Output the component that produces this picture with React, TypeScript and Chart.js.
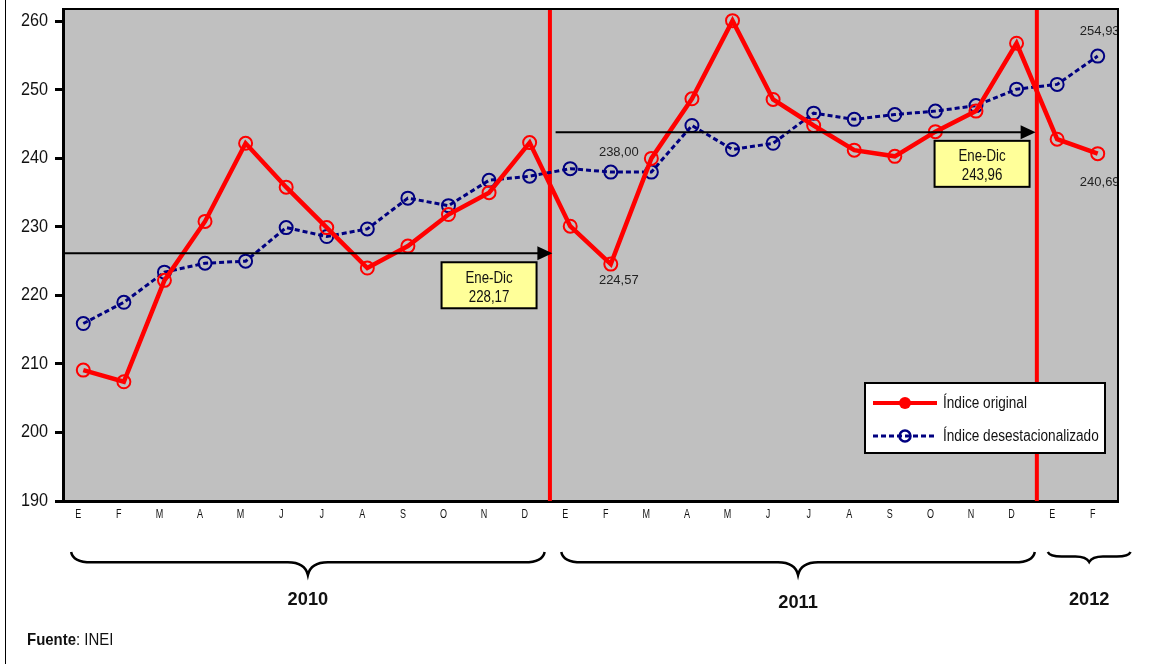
import React, { useEffect, useRef } from "react";
import { Chart, registerables } from "chart.js";

Chart.register(...registerables);

const months = ["E","F","M","A","M","J","J","A","S","O","N","D","E","F","M","A","M","J","J","A","S","O","N","D","E","F"];
const original = [209.1,207.4,222.2,230.8,242.2,235.8,229.9,224.0,227.2,231.8,235.0,242.3,230.1,224.57,240.0,248.7,260.1,248.6,244.8,241.2,240.3,243.9,246.9,256.8,242.8,240.69];
const desest = [215.9,219.0,223.4,224.7,225.0,229.9,228.6,229.7,234.2,233.1,236.8,237.4,238.5,238.0,238.0,244.8,241.3,242.2,246.6,245.7,246.4,246.9,247.7,250.1,250.8,254.93];
const yTicks = [190,200,210,220,230,240,250,260];
const yMin = 190;
const yMax = 261.8;

const yearLabels = ["2010","2011","2012"];
const yearStart = [-0.3, 11.78, 23.77];
const yearEnd = [11.37, 23.45, 25.81];
const yearDividers = [11.5, 23.5];

const arrowStart = [-0.5, 11.64];
const arrowEnd = [11.56, 23.47];
const arrowValue = [226.15, 243.8];
const boxCenter = [10, 22.15];
const boxTopValue = [224.84, 242.56];
const boxTitle = ["Ene-Dic", "Ene-Dic"];
const boxValue = ["228,17", "243,96"];

const labeledIdx = [13, 25];
const seriesNames = ["Índice original", "Índice desestacionalizado"];

const SANS = "'Liberation Sans', Arial, sans-serif";
const fmt = (v: number) => v.toFixed(2).replace(".", ",");

function narrowText(
  ctx: CanvasRenderingContext2D, text: string, x: number, y: number,
  size: number, sx: number, align: CanvasTextAlign = "center", bold = false, color = "#111"
) {
  ctx.save();
  ctx.translate(x, y);
  ctx.scale(sx, 1);
  ctx.font = `${bold ? "bold " : ""}${size}px ${SANS}`;
  ctx.fillStyle = color;
  ctx.textAlign = align;
  ctx.textBaseline = "middle";
  ctx.fillText(text, 0, 0);
  ctx.restore();
}

function brace(ctx: CanvasRenderingContext2D, x1: number, x2: number, yTop: number, depth: number) {
  const mid = (x1 + x2) / 2;
  const yLine = yTop + depth * 0.45;
  const yTip = yTop + depth;
  const r = Math.min(20, (x2 - x1) / 6);
  ctx.beginPath();
  ctx.moveTo(x1, yTop);
  ctx.quadraticCurveTo(x1 + 2, yLine, x1 + r, yLine);
  ctx.lineTo(mid - r, yLine);
  ctx.quadraticCurveTo(mid - 3, yLine, mid, yTip);
  ctx.quadraticCurveTo(mid + 3, yLine, mid + r, yLine);
  ctx.lineTo(x2 - r, yLine);
  ctx.quadraticCurveTo(x2 - 2, yLine, x2, yTop);
  ctx.stroke();
}

const decor = {
  id: "decor",
  beforeDraw(chart: any) {
    const { ctx, chartArea: { left, top, right, bottom } } = chart;
    ctx.save();
    ctx.fillStyle = "#fff";
    ctx.fillRect(0, 0, chart.width, chart.height);
    ctx.fillStyle = "#C0C0C0";
    ctx.fillRect(left, top, right - left, bottom - top);
    ctx.restore();
  },
  beforeDatasetsDraw(chart: any) {
    const { ctx, chartArea: { top, bottom } } = chart;
    const xs = chart.scales.x;
    ctx.save();
    ctx.strokeStyle = "#FF0000";
    ctx.lineWidth = 4;
    yearDividers.forEach((d) => {
      const x = (xs.getPixelForValue(Math.floor(d)) + xs.getPixelForValue(Math.ceil(d))) / 2;
      ctx.beginPath();
      ctx.moveTo(x, top);
      ctx.lineTo(x, bottom);
      ctx.stroke();
    });
    ctx.restore();
  },
  afterDatasetsDraw(chart: any) {
    const { ctx, chartArea: { left } } = chart;
    const xs = chart.scales.x;
    const ys = chart.scales.y;
    const step = xs.getPixelForValue(1) - xs.getPixelForValue(0);
    const px = (i: number) => xs.getPixelForValue(0) + i * step;
    ctx.save();
    ctx.strokeStyle = "#000";
    ctx.fillStyle = "#000";
    ctx.lineWidth = 2;
    arrowValue.forEach((v, i) => {
      const y = ys.getPixelForValue(v);
      const x1 = Math.max(left, px(arrowStart[i]));
      const x2 = px(arrowEnd[i]);
      ctx.beginPath();
      ctx.moveTo(x1, y);
      ctx.lineTo(x2 - 12, y);
      ctx.stroke();
      ctx.beginPath();
      ctx.moveTo(x2, y);
      ctx.lineTo(x2 - 15, y - 7);
      ctx.lineTo(x2 - 15, y + 7);
      ctx.closePath();
      ctx.fill();
    });
    boxCenter.forEach((c, i) => {
      const w = 95, h = 46;
      const x = px(c) - w / 2;
      const y = ys.getPixelForValue(boxTopValue[i]);
      ctx.fillStyle = "#FFFF99";
      ctx.fillRect(x, y, w, h);
      ctx.strokeStyle = "#000";
      ctx.lineWidth = 2;
      ctx.strokeRect(x, y, w, h);
      narrowText(ctx, boxTitle[i], x + w / 2, y + 16, 16, 0.83);
      narrowText(ctx, boxValue[i], x + w / 2, y + 35, 16, 0.83);
    });
    ctx.font = `13px ${SANS}`;
    ctx.fillStyle = "#222";
    ctx.textAlign = "center";
    ctx.textBaseline = "middle";
    labeledIdx.forEach((idx, k) => {
      const x = xs.getPixelForValue(idx) + (k === 0 ? 8 : 2);
      const yb = ys.getPixelForValue(desest[idx]);
      const yr = ys.getPixelForValue(original[idx]);
      ctx.fillText(fmt(desest[idx]), x, yb - (k === 0 ? 20 : 25));
      ctx.fillText(fmt(original[idx]), x, yr + (k === 0 ? 16 : 29));
    });
    ctx.restore();
  },
  afterDraw(chart: any) {
    const { ctx, chartArea: { left, top, right, bottom } } = chart;
    const xs = chart.scales.x;
    const ys = chart.scales.y;
    const step = xs.getPixelForValue(1) - xs.getPixelForValue(0);
    const px = (i: number) => xs.getPixelForValue(0) + i * step;
    ctx.save();
    ctx.strokeStyle = "#000";
    ctx.lineWidth = 2;
    ctx.beginPath();
    ctx.moveTo(left, top);
    ctx.lineTo(right, top);
    ctx.lineTo(right, bottom);
    ctx.stroke();
    ctx.lineWidth = 1;
    ctx.beginPath();
    ctx.moveTo(5.5, 0);
    ctx.lineTo(5.5, chart.height);
    ctx.stroke();
    // axis tick labels
    yTicks.forEach((v) => {
      narrowText(ctx, String(v), left - 15, ys.getPixelForValue(v), 18, 0.9, "right");
    });
    months.forEach((m, i) => {
      narrowText(ctx, m, xs.getPixelForValue(i) - 5, bottom + 14, 12, 0.75);
    });
    // legend
    const lx2 = right - 13, ly2 = bottom - 48;
    const lx1 = lx2 - 240, ly1 = ly2 - 70;
    ctx.fillStyle = "#fff";
    ctx.fillRect(lx1, ly1, lx2 - lx1, ly2 - ly1);
    ctx.strokeStyle = "#000";
    ctx.lineWidth = 2;
    ctx.strokeRect(lx1, ly1, lx2 - lx1, ly2 - ly1);
    const r1 = ly1 + 20, r2 = ly1 + 53;
    ctx.strokeStyle = "#FF0000";
    ctx.lineWidth = 4;
    ctx.beginPath();
    ctx.moveTo(lx1 + 8, r1);
    ctx.lineTo(lx1 + 72, r1);
    ctx.stroke();
    ctx.fillStyle = "#FF0000";
    ctx.beginPath();
    ctx.arc(lx1 + 40, r1, 6, 0, Math.PI * 2);
    ctx.fill();
    ctx.strokeStyle = "#000080";
    ctx.lineWidth = 3;
    ctx.setLineDash([5, 3]);
    ctx.beginPath();
    ctx.moveTo(lx1 + 8, r2);
    ctx.lineTo(lx1 + 72, r2);
    ctx.stroke();
    ctx.setLineDash([]);
    ctx.lineWidth = 2.5;
    ctx.beginPath();
    ctx.arc(lx1 + 40, r2, 5.5, 0, Math.PI * 2);
    ctx.stroke();
    narrowText(ctx, seriesNames[0], lx1 + 78, r1 + 1, 16, 0.85, "left");
    narrowText(ctx, seriesNames[1], lx1 + 78, r2 + 1, 16, 0.85, "left");
    // braces & years
    ctx.strokeStyle = "#000";
    ctx.lineWidth = 2.5;
    yearLabels.forEach((lab, i) => {
      const x1 = px(yearStart[i]);
      const x2 = px(yearEnd[i]);
      const small = yearEnd[i] - yearStart[i] < 4;
      brace(ctx, x1, x2, 552, small ? 10 : 23);
      narrowText(ctx, lab, (x1 + x2) / 2, i === 1 ? 603 : 600, 19, 0.96, "center", true);
    });
    // source
    ctx.save();
    ctx.translate(27, 640);
    ctx.scale(0.88, 1);
    ctx.fillStyle = "#111";
    ctx.textAlign = "left";
    ctx.textBaseline = "middle";
    ctx.font = `bold 17px ${SANS}`;
    ctx.fillText("Fuente", 0, 0);
    const w = ctx.measureText("Fuente").width;
    ctx.font = `17px ${SANS}`;
    ctx.fillText(": INEI", w, 0);
    ctx.restore();
    ctx.restore();
  },
};

export default function App() {
  const ref = useRef<HTMLCanvasElement>(null);
  useEffect(() => {
    if (!ref.current) return;
    const chart = new Chart(ref.current, {
      type: "line",
      data: {
        labels: months,
        datasets: [
          {
            label: seriesNames[0],
            data: original,
            borderColor: "#FF0000",
            borderWidth: 4.5,
            pointRadius: 6.5,
            pointBorderWidth: 2,
            pointBackgroundColor: "rgba(0,0,0,0)",
            pointBorderColor: "#FF0000",
            tension: 0,
          },
          {
            label: seriesNames[1],
            data: desest,
            borderColor: "#000080",
            borderWidth: 3,
            borderDash: [5, 3],
            pointRadius: 6.5,
            pointBorderWidth: 2,
            pointBackgroundColor: "rgba(0,0,0,0)",
            pointBorderColor: "#000080",
            tension: 0,
          },
        ],
      },
      options: {
        responsive: false,
        animation: false,
        layout: { padding: { top: 9, right: 58, left: 0, bottom: 0 } },
        plugins: { legend: { display: false }, tooltip: { enabled: false } },
        scales: {
          x: {
            offset: true,
            grid: { display: false, drawTicks: false },
            border: { color: "#000", width: 3 },
            ticks: { display: false },
            afterFit: (s: any) => { s.height = 163; },
          },
          y: {
            min: yMin,
            max: yMax,
            afterBuildTicks: (s: any) => { s.ticks = yTicks.map((v) => ({ value: v })); },
            grid: { drawOnChartArea: false, drawTicks: true, tickLength: 8, tickWidth: 3, tickColor: "#000" },
            border: { color: "#000", width: 3 },
            ticks: { display: false },
            afterFit: (s: any) => { s.width = 63; },
          },
        },
      },
      plugins: [decor],
    });
    return () => chart.destroy();
  }, []);
  return (
    <div style={{ position: "absolute", left: 0, top: 0, width: 1176, height: 664, background: "#fff" }}>
      <canvas ref={ref} width={1176} height={664} style={{ display: "block" }} />
    </div>
  );
}
